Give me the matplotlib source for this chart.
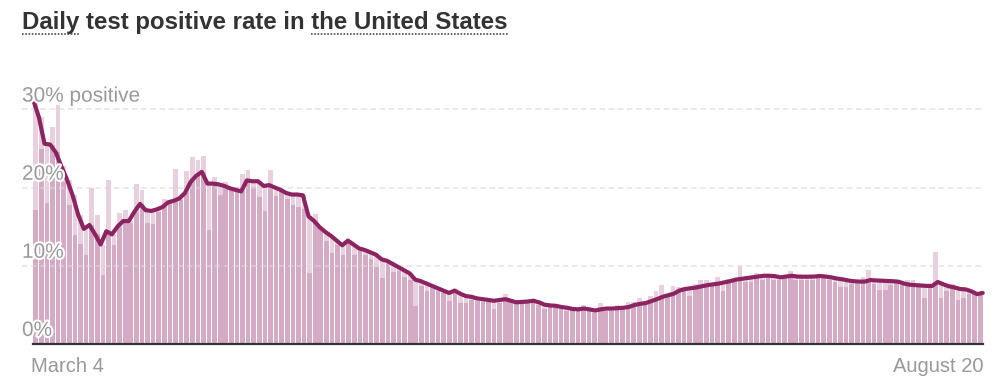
import numpy as np
import matplotlib
matplotlib.use('Agg')
import matplotlib.pyplot as plt
import matplotlib.patheffects as pe
from matplotlib.lines import Line2D
from matplotlib.transforms import blended_transform_factory
import pandas as pd

plt.rcParams['font.family'] = ['Liberation Sans', 'DejaVu Sans']

# ---------------- data ----------------
dates = pd.date_range('2020-03-04', '2020-08-20', freq='D')

daily_rate = [
    17.1, 24.9, 18.0, 27.7, 30.6, 20.7, 17.8, 13.9, 12.8, 11.3,
    20.0, 16.5, 8.8, 21.0, 12.7, 16.7, 17.1, 15.4, 20.4, 19.7,
    15.4, 15.3, 16.9, 18.5, 18.4, 22.4, 18.4, 22.1, 23.9, 23.5,
    24.0, 14.6, 21.4, 19.0, 20.7, 20.1, 20.1, 21.7, 22.3, 20.1,
    18.8, 17.0, 22.2, 18.9, 19.8, 18.5, 17.8, 17.5, 17.2, 9.0,
    16.6, 14.7, 13.1, 11.6, 12.6, 11.4, 13.3, 11.35, 12.0, 11.35,
    10.9, 9.86, 8.4, 10.4, 9.2, 9.35, 8.6, 8.15, 4.8, 7.4,
    6.8, 7.1, 6.7, 6.5, 5.5, 6.9, 5.25, 5.25, 5.6, 5.5,
    5.4, 5.4, 4.5, 5.2, 6.3, 5.4, 5.1, 5.2, 5.2, 5.7,
    4.95, 4.5, 4.7, 4.65, 4.4, 4.2, 4.3, 4.3, 4.9, 4.5,
    3.9, 5.2, 4.2, 4.2, 5.0, 4.7, 5.4, 5.4, 5.8, 5.5,
    6.1, 6.8, 7.5, 6.2, 7.4, 7.3, 7.2, 6.1, 7.6, 8.1,
    8.15, 7.5, 8.6, 6.8, 8.3, 8.2, 9.9, 7.9, 7.9, 9.1,
    8.15, 8.4, 8.2, 8.2, 8.4, 9.3, 8.2, 8.15, 8.1, 8.2,
    8.4, 8.5, 8.1, 7.9, 7.3, 7.3, 7.7, 7.7, 8.6, 9.4,
    7.7, 6.9, 6.9, 7.5, 7.9, 7.5, 8.15, 8.15, 7.5, 5.9,
    7.2, 11.8, 5.9, 6.7, 7.6, 5.6, 5.9, 6.4, 6.4, 6.45,
]

avg_rate = [
    31.2, 29.0, 25.6, 25.5, 24.5, 22.7, 21.0, 19.0, 16.5, 14.7,
    15.2, 14.0, 12.7, 14.4, 14.0, 15.0, 15.7, 15.7, 16.9, 17.9,
    17.1, 17.0, 17.2, 17.5, 18.1, 18.3, 18.6, 19.3, 20.7, 21.5,
    22.0, 20.5, 20.5, 20.4, 20.2, 19.9, 19.7, 19.5, 20.9, 20.8,
    20.8, 20.2, 20.3, 20.0, 19.7, 19.3, 19.1, 19.1, 19.0, 16.3,
    15.7, 14.9, 14.3, 13.8, 13.2, 12.6, 13.2, 12.7, 12.2, 12.0,
    11.7, 11.4, 10.8, 10.6, 10.2, 9.8, 9.4, 9.0, 8.2, 8.0,
    7.7, 7.4, 7.1, 6.8, 6.5, 6.8, 6.4, 6.1, 6.0, 5.8,
    5.7, 5.6, 5.5, 5.6, 5.7, 5.5, 5.3, 5.35, 5.4, 5.5,
    5.3, 5.0, 4.9, 4.85, 4.7, 4.6, 4.45, 4.4, 4.5, 4.4,
    4.25, 4.4, 4.5, 4.5, 4.55, 4.6, 4.7, 4.95, 5.1, 5.2,
    5.45, 5.7, 6.0, 6.2, 6.4, 6.8, 7.0, 7.1, 7.2, 7.35,
    7.5, 7.6, 7.7, 7.85, 8.0, 8.2, 8.3, 8.4, 8.5, 8.6,
    8.7, 8.7, 8.65, 8.5, 8.6, 8.7, 8.6, 8.58, 8.58, 8.6,
    8.67, 8.6, 8.5, 8.35, 8.25, 8.1, 8.0, 7.95, 7.95, 8.15,
    8.1, 8.07, 8.05, 8.0, 7.94, 7.7, 7.55, 7.5, 7.45, 7.4,
    7.4, 7.9, 7.6, 7.35, 7.2, 7.0, 6.95, 6.7, 6.35, 6.5,
]

y_ticks = [0, 10, 20, 30]
y_tick_labels = ['0%', '10%', '20%', '30% positive']
x_tick_labels = [dates[0].strftime('%B ') + str(dates[0].day),
                 dates[-1].strftime('%B ') + str(dates[-1].day)]
title = 'Daily test positive rate in the United States'
underlined = ['Daily', 'the United States']

# ---------------- style ----------------
LIGHT = '#e8d0de'
DARK = '#d4aac5'
LINE = '#8b2461'
GRID = '#d9d9d9'
LABEL = '#999999'
TITLE = '#333333'

W, H = 997, 381
fig = plt.figure(figsize=(W / 100, H / 100), dpi=100)

base_px = 343.7
ymax = 32
px_per_unit = 7.81
left_px, right_px = 33, 983
ax = fig.add_axes([left_px / W, (H - base_px) / H,
                   (right_px - left_px) / W, ymax * px_per_unit / H])

n = len(dates)
x = np.arange(n)
d = np.array(daily_rate)
a = np.array(avg_rate)

ax.bar(x, np.maximum(d, a), width=0.84, color=LIGHT, linewidth=0, zorder=1)
ax.bar(x, np.minimum(d, a), width=0.84, color=DARK, linewidth=0, zorder=2)

# gridlines (drawn over bars, extending slightly left)
trans = blended_transform_factory(ax.transAxes, ax.transData)
for t in y_ticks[1:]:
    ax.add_line(Line2D([-11 / (right_px - left_px), 0.998], [t, t], transform=trans,
                       color=GRID, lw=1.1, dashes=(3.6, 2.4), alpha=0.75,
                       zorder=3, clip_on=False))

xl = np.linspace(-0.45, n - 0.55, n)
ax.plot(xl, a, color=LINE, lw=3.0, solid_joinstyle='round',
        solid_capstyle='round', zorder=5, clip_on=False)

ax.axhline(0, color='#333333', lw=1.6, zorder=6, clip_on=False)

ax.set_xlim(-0.5, n - 0.5)
ax.set_ylim(0, ymax)
ax.axis('off')

halo = [pe.withStroke(linewidth=3, foreground='white')]
for t, lab in zip(y_ticks, y_tick_labels):
    ax.annotate(lab, xy=(22 / W, t), xycoords=('figure fraction', 'data'),
                xytext=(0, 5.6), textcoords='offset points',
                ha='left', va='baseline', fontsize=15, color=LABEL,
                path_effects=halo, zorder=7, annotation_clip=False)

# x labels
fig.text(31 / W, 1 - 372 / H, x_tick_labels[0], ha='left', va='baseline',
         fontsize=14.5, color=LABEL)
fig.text(983 / W, 1 - 372 / H, x_tick_labels[1], ha='right', va='baseline',
         fontsize=14.5, color=LABEL)

# title
tx, ty = 22 / W, 1 - 28.5 / H
ttl = fig.text(tx, ty, title, ha='left', va='baseline', fontsize=17.3,
               fontweight='bold', color=TITLE)
fig.canvas.draw()
r = fig.canvas.get_renderer()
full_bb = ttl.get_window_extent(r)


def text_width(s):
    tmp = fig.text(0, 0, s, fontsize=17.3, fontweight='bold')
    w = tmp.get_window_extent(r).width
    tmp.remove()
    return w


w_first = text_width(underlined[0])
w_last = text_width(underlined[1])
uy = H - 33.5
segs = [(full_bb.x0, full_bb.x0 + w_first), (full_bb.x1 - w_last, full_bb.x1)]
for x0, x1 in segs:
    fig.add_artist(Line2D([x0 / W, x1 / W], [uy / H, uy / H],
                          transform=fig.transFigure, color='#555555',
                          lw=1.3, dashes=(0.9, 0.9)))

fig.savefig('out.png', dpi=100, facecolor='white')
